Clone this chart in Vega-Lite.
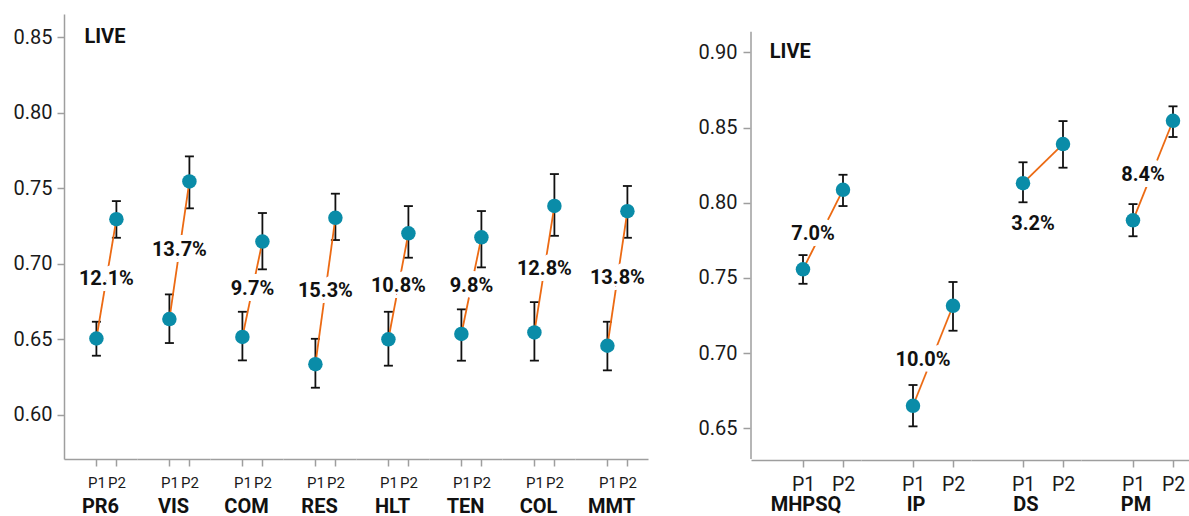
{
  "$schema": "https://vega.github.io/schema/vega-lite/v6.json",
  "background": "white",
  "padding": {"left": 13, "top": 14, "right": 0, "bottom": 0},
  "config": {
    "font": "Roboto",
    "view": {"stroke": null},
    "axis": {
      "grid": false,
      "title": null,
      "domainColor": "#9e9e9e",
      "domainWidth": 1.5,
      "tickColor": "#9e9e9e",
      "tickWidth": 1.5,
      "tickSize": 7,
      "labelColor": "#1a1a1a",
      "labelFont": "Roboto"
    },
    "header": {
      "labelOrient": "bottom",
      "labelFont": "Roboto",
      "labelFontSize": 20,
      "labelFontWeight": "bold",
      "labelColor": "#111111"
    }
  },
  "datasets": {
    "live": [
      {"group": "PR6", "period": "P1", "value": 0.6505, "lo": 0.6391, "hi": 0.6616, "pct": 0.121},
      {"group": "PR6", "period": "P2", "value": 0.7295, "lo": 0.7172, "hi": 0.7415, "pct": 0.121},
      {"group": "VIS", "period": "P1", "value": 0.6634, "lo": 0.6475, "hi": 0.6797, "pct": 0.137},
      {"group": "VIS", "period": "P2", "value": 0.7545, "lo": 0.7367, "hi": 0.7711, "pct": 0.137},
      {"group": "COM", "period": "P1", "value": 0.6515, "lo": 0.6360, "hi": 0.6682, "pct": 0.097},
      {"group": "COM", "period": "P2", "value": 0.7147, "lo": 0.6963, "hi": 0.7336, "pct": 0.097},
      {"group": "RES", "period": "P1", "value": 0.6335, "lo": 0.6179, "hi": 0.6503, "pct": 0.153},
      {"group": "RES", "period": "P2", "value": 0.7304, "lo": 0.7157, "hi": 0.7464, "pct": 0.153},
      {"group": "HLT", "period": "P1", "value": 0.6500, "lo": 0.6325, "hi": 0.6682, "pct": 0.108},
      {"group": "HLT", "period": "P2", "value": 0.7202, "lo": 0.7040, "hi": 0.7382, "pct": 0.108},
      {"group": "TEN", "period": "P1", "value": 0.6535, "lo": 0.6358, "hi": 0.6698, "pct": 0.098},
      {"group": "TEN", "period": "P2", "value": 0.7175, "lo": 0.6976, "hi": 0.7349, "pct": 0.098},
      {"group": "COL", "period": "P1", "value": 0.6545, "lo": 0.6358, "hi": 0.6746, "pct": 0.128},
      {"group": "COL", "period": "P2", "value": 0.7383, "lo": 0.7185, "hi": 0.7594, "pct": 0.128},
      {"group": "MMT", "period": "P1", "value": 0.6457, "lo": 0.6294, "hi": 0.6616, "pct": 0.138},
      {"group": "MMT", "period": "P2", "value": 0.7348, "lo": 0.7172, "hi": 0.7515, "pct": 0.138}
    ],
    "outcomes": [
      {"group": "MHPSQ", "period": "P1", "value": 0.7557, "lo": 0.7461, "hi": 0.7652, "pct": 0.070},
      {"group": "MHPSQ", "period": "P2", "value": 0.8086, "lo": 0.7978, "hi": 0.8186, "pct": 0.070},
      {"group": "IP", "period": "P1", "value": 0.6650, "lo": 0.6513, "hi": 0.6788, "pct": 0.100},
      {"group": "IP", "period": "P2", "value": 0.7315, "lo": 0.7149, "hi": 0.7473, "pct": 0.100},
      {"group": "DS", "period": "P1", "value": 0.8130, "lo": 0.8003, "hi": 0.8269, "pct": 0.032},
      {"group": "DS", "period": "P2", "value": 0.8390, "lo": 0.8233, "hi": 0.8543, "pct": 0.032},
      {"group": "PM", "period": "P1", "value": 0.7883, "lo": 0.7777, "hi": 0.7991, "pct": 0.084},
      {"group": "PM", "period": "P2", "value": 0.8545, "lo": 0.8437, "hi": 0.8641, "pct": 0.084}
    ]
  },
  "spacing": 50,
  "hconcat": [
    {
      "data": {"name": "live"},
      "transform": [
        {"calculate": "datum.period === 'P1' ? 1 : 2", "as": "slot"},
        {"joinaggregate": [
          {"op": "mean", "field": "value", "as": "mid"},
          {"op": "mean", "field": "slot", "as": "slotMid"},
          {"op": "min", "field": "lo", "as": "lowest"},
          {"op": "min", "field": "value", "as": "v1"},
          {"op": "max", "field": "value", "as": "v2"}
        ], "groupby": ["group"]},
        {"calculate": "datum.v2 - datum.v1 < 0.04 ? datum.lowest - 0.012 : datum.mid", "as": "labelY"}
      ],
      "facet": {
        "column": {
          "field": "group",
          "type": "nominal",
          "title": null,
          "sort": ["PR6", "VIS", "COM", "RES", "HLT", "TEN", "COL", "MMT"],
          "header": {"labelPadding": 6.5}
        }
      },
      "spacing": 0,
      "spec": {
        "width": 73,
        "height": 445,
        "layer": [
          {
            "mark": {"type": "rule", "color": "#111111", "strokeWidth": 1.8},
            "encoding": {
              "x": {
                "field": "slot",
                "type": "quantitative",
                "scale": {"domain": [-0.62, 3.03], "nice": false, "zero": false},
                "axis": {"values": [1, 2], "labelExpr": "'P' + datum.value", "labelFontSize": 15, "labelPadding": 9.5}
              },
              "y": {
                "field": "lo",
                "type": "quantitative",
                "scale": {"domain": [0.5707, 0.8654], "nice": false, "zero": false},
                "axis": {"values": [0.6, 0.65, 0.7, 0.75, 0.8, 0.85], "format": ".2f", "labelFontSize": 20, "labelPadding": 5}
              },
              "y2": {"field": "hi"}
            }
          },
          {
            "mark": {"type": "tick", "orient": "horizontal", "color": "#111111", "size": 9, "thickness": 1.8, "opacity": 1},
            "encoding": {"x": {"field": "slot", "type": "quantitative"}, "y": {"field": "lo", "type": "quantitative"}}
          },
          {
            "mark": {"type": "tick", "orient": "horizontal", "color": "#111111", "size": 9, "thickness": 1.8, "opacity": 1},
            "encoding": {"x": {"field": "slot", "type": "quantitative"}, "y": {"field": "hi", "type": "quantitative"}}
          },
          {
            "mark": {"type": "line", "color": "#ec6a13", "strokeWidth": 1.8},
            "encoding": {"x": {"field": "slot", "type": "quantitative"}, "y": {"field": "value", "type": "quantitative"}}
          },
          {
            "mark": {"type": "circle", "color": "#0a8ca8", "size": 210, "opacity": 1},
            "encoding": {"x": {"field": "slot", "type": "quantitative"}, "y": {"field": "value", "type": "quantitative"}}
          },
          {
            "transform": [{"filter": "datum.period === 'P1'"}],
            "mark": {"type": "text", "fontSize": 20, "fontWeight": "bold", "fill": "white", "stroke": "white", "strokeWidth": 12, "strokeJoin": "round"},
            "encoding": {
              "x": {"field": "slotMid", "type": "quantitative"},
              "y": {"field": "labelY", "type": "quantitative"},
              "text": {"field": "pct", "type": "quantitative", "format": ".1%"}
            }
          },
          {
            "transform": [{"filter": "datum.period === 'P1'"}],
            "mark": {"type": "text", "fontSize": 20, "fontWeight": "bold", "fill": "#111111"},
            "encoding": {
              "x": {"field": "slotMid", "type": "quantitative"},
              "y": {"field": "labelY", "type": "quantitative"},
              "text": {"field": "pct", "type": "quantitative", "format": ".1%"}
            }
          },
          {
            "transform": [{"filter": "datum.group === 'PR6' && datum.period === 'P1'"}],
            "mark": {"type": "text", "fontSize": 20, "fontWeight": "bold", "fill": "#111111", "align": "left", "baseline": "middle"},
            "encoding": {
              "x": {"datum": 0.4},
              "y": {"datum": 0.85},
              "text": {"value": "LIVE"}
            }
          }
        ]
      }
    },
    {
      "data": {"name": "outcomes"},
      "transform": [
        {"calculate": "datum.period === 'P1' ? 1 : 2", "as": "slot"},
        {"joinaggregate": [
          {"op": "mean", "field": "value", "as": "mid"},
          {"op": "mean", "field": "slot", "as": "slotMid"},
          {"op": "min", "field": "lo", "as": "lowest"},
          {"op": "min", "field": "value", "as": "v1"},
          {"op": "max", "field": "value", "as": "v2"}
        ], "groupby": ["group"]},
        {"calculate": "datum.v2 - datum.v1 < 0.04 ? datum.lowest - 0.012 : datum.mid", "as": "labelY"}
      ],
      "facet": {
        "column": {
          "field": "group",
          "type": "nominal",
          "title": null,
          "sort": ["MHPSQ", "IP", "DS", "PM"],
          "header": {"labelPadding": 0.5}
        }
      },
      "spacing": 0,
      "spec": {
        "width": 110,
        "height": 445,
        "layer": [
          {
            "mark": {"type": "rule", "color": "#111111", "strokeWidth": 1.8},
            "encoding": {
              "x": {
                "field": "slot",
                "type": "quantitative",
                "scale": {"domain": [-0.3, 2.45], "nice": false, "zero": false},
                "axis": {"values": [1, 2], "labelExpr": "'P' + datum.value", "labelFontSize": 19.5, "labelPadding": 8.5}
              },
              "y": {
                "field": "lo",
                "type": "quantitative",
                "scale": {"domain": [0.6296, 0.9255], "nice": false, "zero": false},
                "axis": {"values": [0.65, 0.7, 0.75, 0.8, 0.85, 0.9], "format": ".2f", "labelFontSize": 20, "labelPadding": 6, "domain": false}
              },
              "y2": {"field": "hi"}
            }
          },
          {
            "transform": [{"filter": "datum.group === 'MHPSQ' && datum.period === 'P1'"}],
            "mark": {"type": "rule", "color": "#9e9e9e", "strokeWidth": 1.5},
            "encoding": {
              "x": {"datum": -0.3},
              "y": {"datum": 0.6296},
              "y2": {"datum": 0.9137}
            }
          },
          {
            "mark": {"type": "tick", "orient": "horizontal", "color": "#111111", "size": 9, "thickness": 1.8, "opacity": 1},
            "encoding": {"x": {"field": "slot", "type": "quantitative"}, "y": {"field": "lo", "type": "quantitative"}}
          },
          {
            "mark": {"type": "tick", "orient": "horizontal", "color": "#111111", "size": 9, "thickness": 1.8, "opacity": 1},
            "encoding": {"x": {"field": "slot", "type": "quantitative"}, "y": {"field": "hi", "type": "quantitative"}}
          },
          {
            "mark": {"type": "line", "color": "#ec6a13", "strokeWidth": 1.8},
            "encoding": {"x": {"field": "slot", "type": "quantitative"}, "y": {"field": "value", "type": "quantitative"}}
          },
          {
            "mark": {"type": "circle", "color": "#0a8ca8", "size": 210, "opacity": 1},
            "encoding": {"x": {"field": "slot", "type": "quantitative"}, "y": {"field": "value", "type": "quantitative"}}
          },
          {
            "transform": [{"filter": "datum.period === 'P1'"}],
            "mark": {"type": "text", "fontSize": 20, "fontWeight": "bold", "fill": "white", "stroke": "white", "strokeWidth": 12, "strokeJoin": "round", "dx": -10, "dy": 4},
            "encoding": {
              "x": {"field": "slotMid", "type": "quantitative"},
              "y": {"field": "labelY", "type": "quantitative"},
              "text": {"field": "pct", "type": "quantitative", "format": ".1%"}
            }
          },
          {
            "transform": [{"filter": "datum.period === 'P1'"}],
            "mark": {"type": "text", "fontSize": 20, "fontWeight": "bold", "fill": "#111111", "dx": -10, "dy": 4},
            "encoding": {
              "x": {"field": "slotMid", "type": "quantitative"},
              "y": {"field": "labelY", "type": "quantitative"},
              "text": {"field": "pct", "type": "quantitative", "format": ".1%"}
            }
          },
          {
            "transform": [{"filter": "datum.group === 'MHPSQ' && datum.period === 'P1'"}],
            "mark": {"type": "text", "fontSize": 20, "fontWeight": "bold", "fill": "#111111", "align": "left", "baseline": "middle"},
            "encoding": {
              "x": {"datum": 0.17},
              "y": {"datum": 0.9},
              "text": {"value": "LIVE"}
            }
          }
        ]
      }
    }
  ]
}
